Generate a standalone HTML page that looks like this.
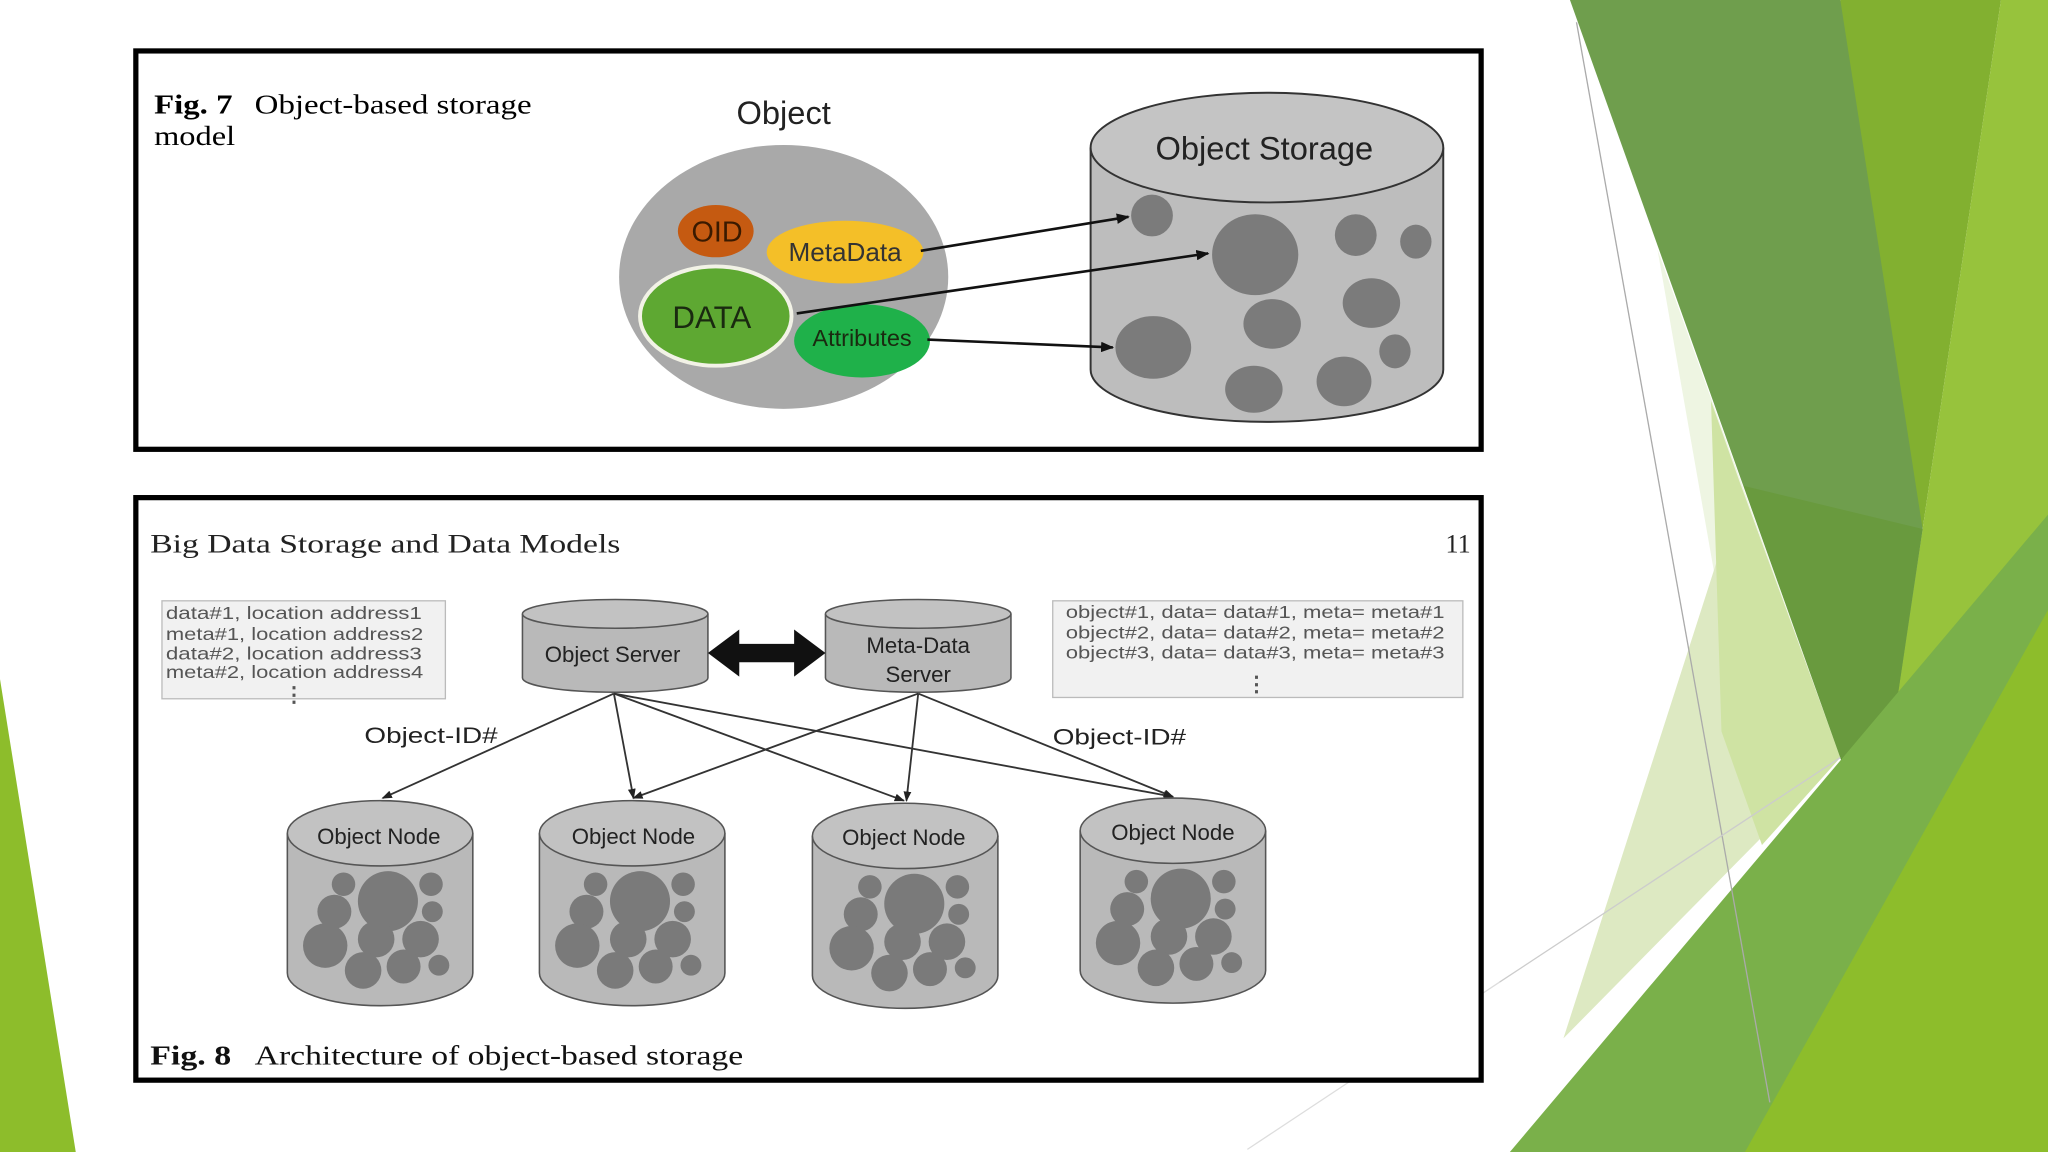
<!DOCTYPE html>
<html><head><meta charset="utf-8"><style>
html,body{margin:0;padding:0;background:#fff;}
svg{display:block;}
.sv{font-family:"Liberation Serif",serif;}
.sa{font-family:"Liberation Sans",sans-serif;}
</style></head><body>
<svg width="2048" height="1152" viewBox="0 0 1568 882" preserveAspectRatio="none" xmlns="http://www.w3.org/2000/svg">
<defs>
<marker id="ah" markerWidth="10" markerHeight="8" refX="9" refY="4" orient="auto" markerUnits="userSpaceOnUse"><path d="M0,0 L10,4 L0,8 z" fill="#111"/></marker>
<marker id="ah2" markerWidth="8" markerHeight="6" refX="7" refY="3" orient="auto" markerUnits="userSpaceOnUse"><path d="M0,0 L8,3 L0,6 z" fill="#222"/></marker>
<g id="dots">
<circle cx="6" cy="50" r="23" fill="#7a7a7a"/>
<circle cx="-28" cy="37" r="9" fill="#7a7a7a"/>
<circle cx="39" cy="37" r="9" fill="#7a7a7a"/>
<circle cx="-35" cy="58" r="13" fill="#7a7a7a"/>
<circle cx="40" cy="58" r="8" fill="#7a7a7a"/>
<circle cx="-42" cy="84" r="17" fill="#7a7a7a"/>
<circle cx="-3" cy="79" r="14" fill="#7a7a7a"/>
<circle cx="31" cy="79" r="14" fill="#7a7a7a"/>
<circle cx="-13" cy="103" r="14" fill="#7a7a7a"/>
<circle cx="18" cy="100" r="13" fill="#7a7a7a"/>
<circle cx="45" cy="99" r="8" fill="#7a7a7a"/>
</g>
</defs>
<rect width="1568" height="882" fill="#fff"/>
<polygon points="0,520 58,882 0,882" fill="#8dbd2b"/>
<polygon points="1409,0 1532,0 1472,405 1409,580" fill="#82b030"/>
<polygon points="1532,0 1568,0 1568,882 1400,882 1472,405" fill="#97c33c"/>
<polygon points="1269,191 1409,580 1349,647" fill="#eef5e2"/>
<polygon points="1333,372 1409,580 1197,795" fill="#dde9c2"/>
<polygon points="1310,307 1333,372 1409,580 1349,647 1318,560" fill="#cfe3a3"/>
<polygon points="1202,0 1409,0 1472,405 1435,653" fill="#6f9e4d"/>
<polygon points="1335,372 1472,405 1435,653" fill="#699a3e"/>
<polygon points="1409,580 1435,653 1470,630" fill="#4e8a22"/>
<polygon points="1156,882 1568,394 1568,882" fill="#7ab04a"/>
<polygon points="1336,882 1568,467 1568,882" fill="#8dbd2b"/>
<line x1="1207" y1="17" x2="1355" y2="844" stroke="#aaa" stroke-width="1"/>
<line x1="1148" y1="752" x2="1409" y2="580" stroke="#ccc" stroke-width="1"/>
<line x1="955" y1="880" x2="1148" y2="752" stroke="#ddd" stroke-width="1"/>

<rect x="104" y="39" width="1030" height="305" fill="#fff" stroke="#000" stroke-width="4"/>
<text class="sv" x="118" y="87" font-size="21" font-weight="bold" textLength="60" lengthAdjust="spacingAndGlyphs">Fig. 7</text>
<text class="sv" x="195" y="87" font-size="21" textLength="212" lengthAdjust="spacingAndGlyphs">Object-based storage</text>
<text class="sv" x="118" y="111" font-size="21" textLength="62" lengthAdjust="spacingAndGlyphs">model</text>
<text class="sa" x="600" y="95" font-size="25" text-anchor="middle" fill="#222">Object</text>
<ellipse cx="600" cy="212" rx="126" ry="101" fill="#a9a9a9"/>
<ellipse cx="548" cy="177" rx="29" ry="20" fill="#c55a11"/>
<text class="sa" x="549" y="185" font-size="22" text-anchor="middle" fill="#3a1a00">OID</text>
<ellipse cx="647" cy="193" rx="60" ry="24" fill="#f4bf28"/>
<text class="sa" x="647" y="200" font-size="20" text-anchor="middle" fill="#333">MetaData</text>
<ellipse cx="660" cy="261" rx="52" ry="28" fill="#1fb14a"/>
<ellipse cx="548" cy="242" rx="58" ry="38" fill="#5ea832" stroke="#f2f2e6" stroke-width="3"/>
<text class="sa" x="545" y="251" font-size="24" text-anchor="middle" fill="#1a2a10">DATA</text>
<text class="sa" x="660" y="265" font-size="18" text-anchor="middle" fill="#1a2a10">Attributes</text>
<path d="M835,113 L835,283 A135,40 0 0 0 1105,283 L1105,113" fill="#bdbdbd" stroke="#333" stroke-width="1.5"/>
<ellipse cx="970" cy="113" rx="135" ry="42" fill="#c4c4c4" stroke="#333" stroke-width="1.5"/>
<text class="sa" x="968" y="122" font-size="25" text-anchor="middle" fill="#222">Object Storage</text>
<g fill="#7b7b7b">
<circle cx="882" cy="165" r="16"/><ellipse cx="961" cy="195" rx="33" ry="31"/><circle cx="1038" cy="180" r="16"/><ellipse cx="1084" cy="185" rx="12" ry="13"/>
<ellipse cx="1050" cy="232" rx="22" ry="19"/><ellipse cx="974" cy="248" rx="22" ry="19"/><ellipse cx="883" cy="266" rx="29" ry="24"/><ellipse cx="1068" cy="269" rx="12" ry="13"/>
<ellipse cx="960" cy="298" rx="22" ry="18"/><ellipse cx="1029" cy="292" rx="21" ry="19"/>
</g>
<g stroke="#111" stroke-width="2" marker-end="url(#ah)">
<line x1="705" y1="192" x2="864" y2="166"/>
<line x1="610" y1="240" x2="925" y2="194"/>
<line x1="710" y1="260" x2="852" y2="266"/>
</g>

<rect x="104" y="381" width="1030" height="446" fill="#fff" stroke="#000" stroke-width="4"/>
<text class="sv" x="115" y="423" font-size="20" fill="#222" textLength="360" lengthAdjust="spacingAndGlyphs">Big Data Storage and Data Models</text>
<text class="sv" x="1126" y="423" font-size="20" text-anchor="end" fill="#222">11</text>
<rect x="124" y="460" width="217" height="75" fill="#f1f1f1" stroke="#bbb"/>
<g class="sa" font-size="13.5" fill="#555">
<text x="127" y="474" textLength="196" lengthAdjust="spacingAndGlyphs">data#1,  location address1</text>
<text x="127" y="490" textLength="197" lengthAdjust="spacingAndGlyphs">meta#1, location address2</text>
<text x="127" y="505" textLength="196" lengthAdjust="spacingAndGlyphs">data#2,  location address3</text>
<text x="127" y="519" textLength="197" lengthAdjust="spacingAndGlyphs">meta#2, location address4</text>
<text x="225" y="537" text-anchor="middle" font-weight="bold" font-size="16">⋮</text>
</g>
<rect x="806" y="460" width="314" height="74" fill="#f1f1f1" stroke="#bbb"/>
<g class="sa" font-size="13.5" fill="#555">
<text x="816" y="473" textLength="290" lengthAdjust="spacingAndGlyphs">object#1, data= data#1, meta= meta#1</text>
<text x="816" y="489" textLength="290" lengthAdjust="spacingAndGlyphs">object#2, data= data#2, meta= meta#2</text>
<text x="816" y="504" textLength="290" lengthAdjust="spacingAndGlyphs">object#3, data= data#3, meta= meta#3</text>
<text x="962" y="529" text-anchor="middle" font-weight="bold" font-size="16">⋮</text>
</g>
<path d="M400,470 L400,519 A71,11 0 0 0 542,519 L542,470" fill="#b9b9b9" stroke="#555" stroke-width="1.2"/>
<ellipse cx="471" cy="470" rx="71" ry="11" fill="#c2c2c2" stroke="#555" stroke-width="1.2"/>
<text class="sa" x="469" y="507" font-size="17" text-anchor="middle" fill="#222">Object Server</text>
<path d="M632,470 L632,519 A71,11 0 0 0 774,519 L774,470" fill="#b9b9b9" stroke="#555" stroke-width="1.2"/>
<ellipse cx="703" cy="470" rx="71" ry="11" fill="#c2c2c2" stroke="#555" stroke-width="1.2"/>
<text class="sa" x="703" y="500" font-size="17" text-anchor="middle" fill="#222">Meta-Data</text>
<text class="sa" x="703" y="522" font-size="17" text-anchor="middle" fill="#222">Server</text>
<polygon points="542,500 566,482 566,493 608,493 608,482 632,500 608,518 608,507 566,507 566,518" fill="#111"/>
<g stroke="#333" stroke-width="1.4" marker-end="url(#ah2)">
<line x1="470" y1="531" x2="293" y2="611"/>
<line x1="470" y1="531" x2="485" y2="611"/>
<line x1="470" y1="531" x2="692" y2="613"/>
<line x1="470" y1="531" x2="898" y2="610"/>
<line x1="703" y1="531" x2="485" y2="611"/>
<line x1="703" y1="531" x2="694" y2="613"/>
<line x1="703" y1="531" x2="898" y2="610"/>
</g>
<text class="sa" x="279" y="569" font-size="17" fill="#222" textLength="102" lengthAdjust="spacingAndGlyphs">Object-ID#</text>
<text class="sa" x="806" y="570" font-size="17" fill="#222" textLength="102" lengthAdjust="spacingAndGlyphs">Object-ID#</text>
<g>
<path d="M220,638 L220,745 A71,25 0 0 0 362,745 L362,638" fill="#b9b9b9" stroke="#555" stroke-width="1.2"/>
<ellipse cx="291" cy="638" rx="71" ry="25" fill="#c2c2c2" stroke="#555" stroke-width="1.2"/>
<text class="sa" x="290" y="646" font-size="17" text-anchor="middle" fill="#222">Object Node</text>
<use href="#dots" x="291" y="640"/>
</g>
<g>
<path d="M413,638 L413,745 A71,25 0 0 0 555,745 L555,638" fill="#b9b9b9" stroke="#555" stroke-width="1.2"/>
<ellipse cx="484" cy="638" rx="71" ry="25" fill="#c2c2c2" stroke="#555" stroke-width="1.2"/>
<text class="sa" x="485" y="646" font-size="17" text-anchor="middle" fill="#222">Object Node</text>
<use href="#dots" x="484" y="640"/>
</g>
<g>
<path d="M622,640 L622,747 A71,25 0 0 0 764,747 L764,640" fill="#b9b9b9" stroke="#555" stroke-width="1.2"/>
<ellipse cx="693" cy="640" rx="71" ry="25" fill="#c2c2c2" stroke="#555" stroke-width="1.2"/>
<text class="sa" x="692" y="647" font-size="17" text-anchor="middle" fill="#222">Object Node</text>
<use href="#dots" x="694" y="642"/>
</g>
<g>
<path d="M827,636 L827,743 A71,25 0 0 0 969,743 L969,636" fill="#b9b9b9" stroke="#555" stroke-width="1.2"/>
<ellipse cx="898" cy="636" rx="71" ry="25" fill="#c2c2c2" stroke="#555" stroke-width="1.2"/>
<text class="sa" x="898" y="643" font-size="17" text-anchor="middle" fill="#222">Object Node</text>
<use href="#dots" x="898" y="638"/>
</g>
<text class="sv" x="115" y="815" font-size="21" font-weight="bold" fill="#111" textLength="62" lengthAdjust="spacingAndGlyphs">Fig. 8</text>
<text class="sv" x="195" y="815" font-size="21" fill="#111" textLength="374" lengthAdjust="spacingAndGlyphs">Architecture of object-based storage</text>
</svg>
</body></html>
